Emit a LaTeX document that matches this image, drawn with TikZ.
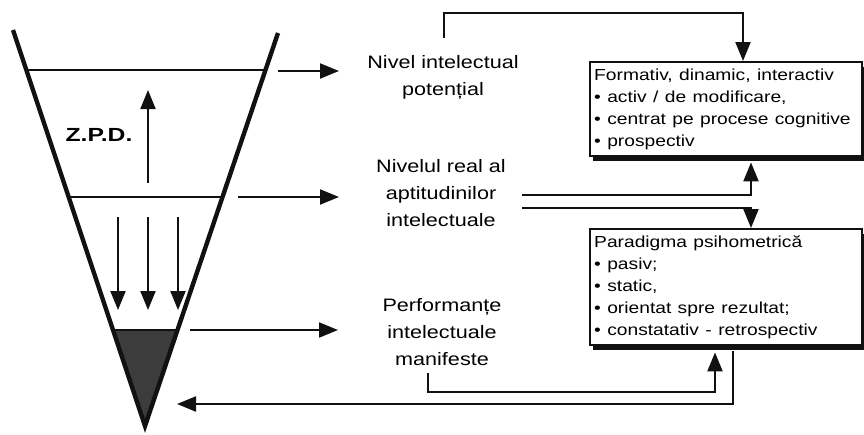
\documentclass[tikz,border=0pt]{standalone}
\usepackage{fontspec}
\setmainfont{Liberation Sans}
\usepackage{graphicx}
\usepackage{tikz}
\usetikzlibrary{arrows.meta, positioning, calc, shadows}
\definecolor{InkBlack}{HTML}{111111}
\definecolor{ScanGray}{HTML}{3C3C3C}
\newcommand{\widetext}[2][l]{\scalebox{1.2}[1]{\begin{tabular}{@{}#1@{}}#2\end{tabular}}}

\tikzset{
  funnelline/.style={draw=InkBlack, line width=4.4pt},
  levelline/.style={draw=InkBlack, line width=2.8pt},
  flow/.style={draw=InkBlack, line width=2.1pt, -{Triangle[length=19pt,width=15pt]}},
  level/.style={align=center, inner sep=0pt, font=\fontsize{18}{27}\selectfont},
  infobox/.style={draw=InkBlack, line width=2.4pt, fill=white, anchor=north west,
                  align=left, text width=264pt, inner xsep=4pt, inner ysep=3pt,
                  font=\fontsize{16}{22}\selectfont,
                  drop shadow={shadow xshift=3pt, shadow yshift=-5pt, opacity=1, fill=InkBlack}},
}

\begin{document}
\begin{tikzpicture}[x=1pt, y=-1pt]
\useasboundingbox (0,0) rectangle (864,434);

% the funnel
\coordinate (topL) at (13,30);
\coordinate (topR) at (278,33);
\coordinate (apex) at (145,426);
\coordinate (potL)  at (intersection of topL--apex and 0,70--10,70);
\coordinate (potR)  at (intersection of topR--apex and 0,70--10,70);
\coordinate (realL) at (intersection of topL--apex and 0,197--10,197);
\coordinate (realR) at (intersection of topR--apex and 0,197--10,197);
\coordinate (perfL) at (intersection of topL--apex and 0,330--10,330);
\coordinate (perfR) at (intersection of topR--apex and 0,330--10,330);

\fill[ScanGray] (perfL) -- (perfR) -- (apex) -- cycle;
\draw[funnelline] (topL) -- (apex) -- (topR);
\draw[levelline] (potL) -- (potR);
\draw[levelline] (realL) -- (realR);
\draw[levelline] (perfL) -- (perfR);

\node[font=\bfseries\fontsize{19}{20}\selectfont] (zpd) at (99,135) {\scalebox{1.3}[1]{Z.P.D.}};
\coordinate (upFrom) at (148,183);
\coordinate (upTo) at (148,90);
\draw[flow] (upFrom) -- (upTo);
\foreach \x in {118,148,178}
  \draw[flow] (\x,217) -- (\x,310);

% levels
\node[level] (pot)  at (443,77)  {\widetext[c]{Nivel intelectual\\potențial}};
\node[level] (real) at (441,194) {\widetext[c]{Nivelul real al\\aptitudinilor\\intelectuale}};
\node[level] (perf) at (442,333) {\widetext[c]{Performanțe\\intelectuale\\manifeste}};

\coordinate (potOut)  at (278,71);
\coordinate (realOut) at (238,197);
\coordinate (perfOut) at (190,330);
\draw[flow] (potOut)  -- (339,71);
\draw[flow] (realOut) -- (339,197);
\draw[flow] (perfOut) -- (338,330);

% paradigms
\node[infobox] (formBox) at (589,61) {\widetext{%
  Formativ, dinamic, interactiv\\
  \textbullet\ activ / de modificare,\\
  \textbullet\ centrat pe procese cognitive\\
  \textbullet\ prospectiv}};
\node[infobox] (psyBox) at (589,228) {\widetext{%
  Paradigma psihometrică\\
  \textbullet\ pasiv;\\
  \textbullet\ static,\\
  \textbullet\ orientat spre rezultat;\\
  \textbullet\ constatativ - retrospectiv}};

% connectors
\coordinate (potTop) at (444,38);
\coordinate (turnTop) at (743,13);
\draw[flow] (potTop) |- (turnTop) -- (turnTop |- formBox.north);

\coordinate (realUp) at (522,195);
\coordinate (realDown) at (522,208);
\coordinate (midX) at (751,0);
\draw[flow] (realUp) -| ([yshift=-5pt]midX |- formBox.south);
\draw[flow] (realDown) -| (midX |- psyBox.north);

\coordinate (perfLow) at (428,373);
\coordinate (perfTurn) at (715,392);
\draw[flow] (perfLow) |- (perfTurn) -- ([yshift=-6pt]perfTurn |- psyBox.south);

\coordinate (backX) at (733,0);
\coordinate (backTip) at (177,404);
\draw[flow] ([yshift=-5pt]backX |- psyBox.south) |- (backTip);
\end{tikzpicture}
\end{document}
